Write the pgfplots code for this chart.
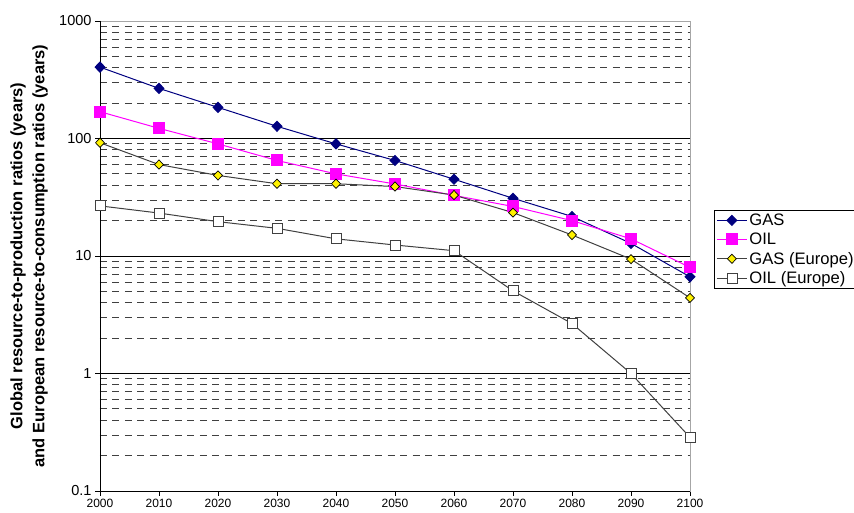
\documentclass[border=0pt]{standalone}
\usepackage{pgfplots}
\pgfplotsset{compat=1.18}
\usepackage{fontspec}
\setmainfont{Liberation Sans}
\definecolor{gasblue}{RGB}{0,0,128}
\definecolor{oilmag}{RGB}{255,0,255}
\definecolor{eurgray}{RGB}{64,64,64}
\begin{document}
\begin{tikzpicture}
\begin{axis}[
  scale only axis,
  width=590pt, height=470pt,
  xmin=2000, xmax=2100,
  ymode=log, ymin=0.1, ymax=1000,
  xtick={2000,2010,...,2100},
  ytick={0.1,1,10,100,1000},
  yticklabels={0.1,1,10,100,1000},
  /pgf/number format/1000 sep={},
  /pgf/number format/assume math mode=true,
  xticklabel style={font=\fontsize{12}{14}\selectfont},
  yticklabel style={font=\fontsize{14.5}{16}\selectfont},
  tick align=outside,
  xtick pos=bottom, ytick pos=left,
  major tick length=5pt,
  minor y tick style={draw=none},
  ymajorgrids, yminorgrids,
  major grid style={black, line width=0.8pt},
  minor grid style={black!75, line width=0.8pt, dash pattern=on 7pt off 5.5pt},
  axis line style={gray!70, line width=0.8pt},
  tick style={black, line width=0.8pt},
  clip=false,
  every axis y label/.style={at={(axis description cs:-0.1203,0.5)}, rotate=90, anchor=center},
  ylabel={Global resource-to-production ratios (years)\\and European resource-to-consumption ratios (years)},
  ylabel style={align=center, font=\bfseries\fontsize{16.5}{22}\selectfont},
  legend style={at={(1.0407,0.598)}, anchor=north west, draw=black, line width=0.8pt,
    font=\fontsize{16.6}{20}\selectfont, row sep=2pt, inner xsep=2pt, inner ysep=1.5pt},
  legend cell align=left,
  legend image code/.code={\draw[mark repeat=2,mark phase=2,#1] plot coordinates {(0pt,0pt) (15pt,0pt) (30pt,0pt)};},
]
\addplot[gasblue, line width=1pt, mark=diamond*, mark size=5pt, mark options={xscale=1.3, fill=gasblue, draw=gasblue}] coordinates {
(2000,405) (2010,267) (2020,184) (2030,127) (2040,90) (2050,65) (2060,45) (2070,31) (2080,21.7) (2090,12.8) (2100,6.65)};
\addlegendentry{GAS}
\addplot[oilmag, line width=1pt, mark=square*, mark size=5.5pt, mark options={fill=oilmag, draw=oilmag}] coordinates {
(2000,169) (2010,122) (2020,90) (2030,65) (2040,50) (2050,41) (2060,32.8) (2070,26.4) (2080,20) (2090,14) (2100,8.0)};
\addlegendentry{OIL}
\addplot[eurgray, line width=1pt, mark=diamond*, mark size=4.6pt, mark options={xscale=1.3, fill=yellow, draw=black, line width=0.7pt}] coordinates {
(2000,92) (2010,60) (2020,48.5) (2030,41.2) (2040,41.2) (2050,39) (2060,33) (2070,23.4) (2080,15.1) (2090,9.4) (2100,4.4)};
\addlegendentry{GAS (Europe)}
\addplot[eurgray, line width=1pt, mark=square*, mark size=5pt, mark options={fill=white, draw=eurgray, line width=0.8pt}] coordinates {
(2000,26.7) (2010,23.2) (2020,19.6) (2030,17.2) (2040,14) (2050,12.4) (2060,11.1) (2070,5.05) (2080,2.66) (2090,1.0) (2100,0.286)};
\addlegendentry{OIL (Europe)}
\draw[black, line width=0.8pt] (rel axis cs:0,1) -- (rel axis cs:0,0) -- (rel axis cs:1,0);
\end{axis}
\pgfresetboundingbox
\path[use as bounding box] (current axis.south west) ++(-100pt,-21pt) rectangle ++(854pt,512pt);
\end{tikzpicture}
\end{document}
